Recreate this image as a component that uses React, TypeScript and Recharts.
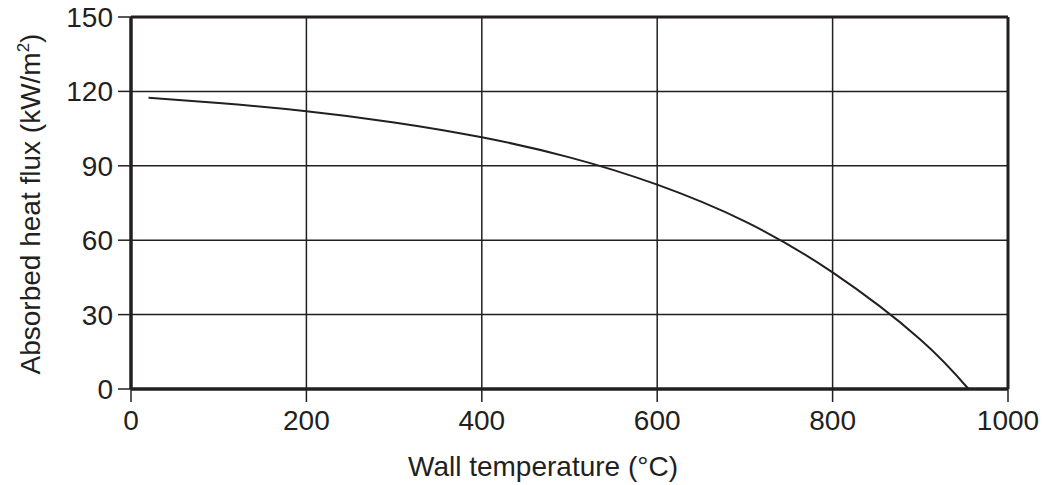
import { CartesianGrid, Line, LineChart, ReferenceLine, XAxis, YAxis } from "recharts";

// Wall temperature (°C) vs absorbed heat flux (kW/m²)
const temperature = [20, 100, 200, 300, 400, 500, 600, 700, 800, 900, 955];
const heatFlux = [117.4, 115.3, 112, 107.5, 101.5, 93.4, 82.4, 67.6, 47, 20, 0];

const xTicks = [0, 200, 400, 600, 800, 1000];
const yTicks = [0, 30, 60, 90, 120, 150];

const INK = "#231f20";
const FONT = "'Liberation Sans', Arial, sans-serif";

const data = temperature.map((t, i) => ({ t, q: heatFlux[i] }));

export default function App() {
  return (
    <div style={{ position: "absolute", left: 0, top: 0, width: 1042, height: 485, background: "#fff" }}>
      <LineChart
        width={1042}
        height={485}
        data={data}
        margin={{ top: 17, right: 34, left: 0, bottom: 0 }}
        style={{ fontFamily: FONT }}
      >
        <CartesianGrid stroke={INK} strokeWidth={1.5} horizontalValues={yTicks} verticalValues={xTicks} />
        <XAxis
          type="number"
          dataKey="t"
          domain={[0, 1000]}
          ticks={xTicks}
          interval={0}
          height={96}
          axisLine={{ stroke: INK, strokeWidth: 3.5 }}
          tickLine={{ stroke: INK, strokeWidth: 1.5 }}
          tickSize={13}
          tickMargin={8}
          tick={{ fill: INK, fontSize: 28, fontFamily: FONT }}
        />
        <YAxis
          type="number"
          domain={[0, 150]}
          ticks={yTicks}
          interval={0}
          width={131}
          axisLine={{ stroke: INK, strokeWidth: 3.5 }}
          tickLine={{ stroke: INK, strokeWidth: 1.5 }}
          tickSize={13}
          tickMargin={5}
          tick={{ fill: INK, fontSize: 28, fontFamily: FONT }}
        />
        <ReferenceLine y={150} stroke={INK} strokeWidth={3} />
        <ReferenceLine x={1000} stroke={INK} strokeWidth={3} />
        <Line
          type="natural"
          dataKey="q"
          stroke={INK}
          strokeWidth={2}
          dot={false}
          isAnimationActive={false}
        />
      </LineChart>
      <svg
        width={1042}
        height={485}
        style={{ position: "absolute", left: 0, top: 0, pointerEvents: "none" }}
      >
        <text
          x={543}
          y={476}
          textAnchor="middle"
          fill={INK}
          fontSize={28}
          fontFamily={FONT}
        >
          Wall temperature (°C)
        </text>
        <text
          transform="translate(40 204) rotate(-90)"
          textAnchor="middle"
          fill={INK}
          fontSize={28}
          fontFamily={FONT}
        >
          Absorbed heat flux (kW/m
          <tspan fontSize={17} dy={-11}>2</tspan>
          <tspan dy={11}>)</tspan>
        </text>
      </svg>
    </div>
  );
}
